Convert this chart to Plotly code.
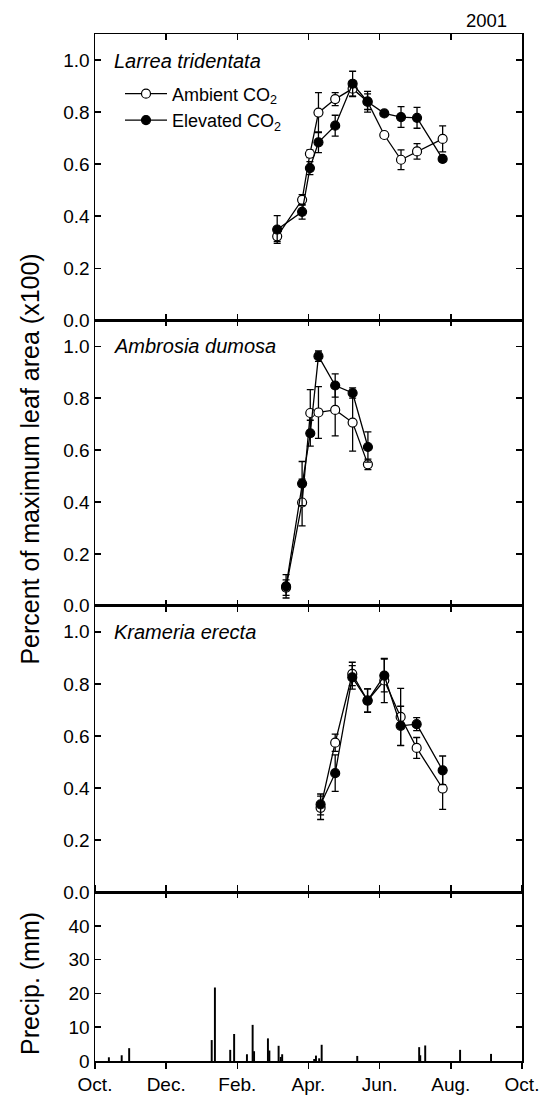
import plotly.graph_objects as go

# ---------------- data (x in months since 1 Oct 2000) ----------------
month_ticks = [0, 2, 4, 6, 8, 10, 12]
month_labels = ["Oct.", "Dec.", "Feb.", "Apr.", "Jun.", "Aug.", "Oct."]

larrea_x = [5.12, 5.82, 6.04, 6.28, 6.75, 7.24, 7.66, 8.13, 8.60, 9.05, 9.77]
larrea_amb = [0.323, 0.463, 0.640, 0.798, 0.850, 0.890, 0.840, 0.712, 0.617, 0.649, 0.697]
larrea_amb_err = [0.02, 0.02, 0.015, 0.077, 0.025, 0.03, 0.03, 0.01, 0.038, 0.03, 0.05]
larrea_elev = [0.349, 0.417, 0.585, 0.684, 0.748, 0.909, 0.840, 0.795, 0.781, 0.778, 0.620]
larrea_elev_err = [0.053, 0.028, 0.025, 0.04, 0.04, 0.048, 0.04, 0.01, 0.04, 0.04, 0.01]

ambrosia_x = [5.37, 5.82, 6.05, 6.28, 6.75, 7.24, 7.67]
ambrosia_amb = [0.07, 0.398, 0.743, 0.745, 0.755, 0.706, 0.545]
ambrosia_amb_err = [0.03, 0.09, 0.09, 0.10, 0.10, 0.11, 0.02]
ambrosia_elev = [0.075, 0.471, 0.665, 0.962, 0.849, 0.820, 0.612]
ambrosia_elev_err = [0.045, 0.085, 0.05, 0.02, 0.045, 0.02, 0.058]

krameria_x = [6.34, 6.75, 7.23, 7.66, 8.13, 8.59, 9.04, 9.77]
krameria_amb = [0.324, 0.574, 0.838, 0.736, 0.813, 0.673, 0.554, 0.398]
krameria_amb_err = [0.045, 0.033, 0.045, 0.045, 0.085, 0.11, 0.04, 0.08]
krameria_elev = [0.337, 0.457, 0.825, 0.736, 0.832, 0.639, 0.645, 0.468]
krameria_elev_err = [0.04, 0.07, 0.045, 0.045, 0.063, 0.075, 0.025, 0.055]

precip_x = [0.39, 0.75, 0.96, 3.28, 3.37, 3.80, 3.91, 4.27, 4.43, 4.47, 4.86, 4.90,
            5.16, 5.22, 5.26, 6.16, 6.21, 6.30, 6.37, 7.37, 9.11, 9.14, 9.28, 10.26, 11.13]
precip_mm = [1.1, 1.7, 3.8, 6.2, 21.8, 3.3, 8.0, 2.0, 10.7, 2.9, 6.7, 3.1,
             4.5, 1.2, 2.0, 0.6, 1.6, 0.8, 4.8, 1.5, 4.1, 1.7, 4.6, 3.3, 2.1]

species = ["Larrea tridentata", "Ambrosia dumosa", "Krameria erecta"]
series_names = ["Ambient CO<sub>2</sub>", "Elevated CO<sub>2</sub>"]
year_label = "2001"
y_title = "Percent of maximum leaf area (x100)"
precip_title = "Precip. (mm)"

# ---------------- figure ----------------
FONT = "Liberation Sans, Arial, sans-serif"
W, H = 553, 1107
ML, MT = 95, 34
MR = W - 522
MB = H - 1074
plot_h = H - MT - MB
pw = W - ML - MR

def fy(ref_y):
    """page y (pixels) -> paper fraction"""
    return (H - MB - ref_y) / plot_h

def fx(ref_x):
    return (ref_x - ML) / pw

domains = [
    [fy(324), 1.0],
    [fy(613), fy(324)],
    [fy(903), fy(613)],
    [0.0, fy(903)],
]

fig = go.Figure()

panels = [
    (larrea_x, larrea_amb, larrea_amb_err, larrea_elev, larrea_elev_err),
    (ambrosia_x, ambrosia_amb, ambrosia_amb_err, ambrosia_elev, ambrosia_elev_err),
    (krameria_x, krameria_amb, krameria_amb_err, krameria_elev, krameria_elev_err),
]

for i, (xs, amb, amb_e, elev, elev_e) in enumerate(panels):
    xa = "x" if i == 0 else f"x{i+1}"
    ya = "y" if i == 0 else f"y{i+1}"
    fig.add_trace(go.Scatter(
        x=xs, y=amb, mode="lines+markers", name=series_names[0],
        xaxis=xa, yaxis=ya, showlegend=(i == 0), legendrank=1,
        line=dict(color="black", width=1.3),
        marker=dict(symbol="circle", size=9, color="white",
                    line=dict(color="black", width=1.2)),
        error_y=dict(type="data", array=amb_e, color="black", thickness=1.3, width=3.5),
    ))
    fig.add_trace(go.Scatter(
        x=xs, y=elev, mode="lines+markers", name=series_names[1],
        xaxis=xa, yaxis=ya, showlegend=(i == 0), legendrank=2,
        line=dict(color="black", width=1.3),
        marker=dict(symbol="circle", size=9, color="black",
                    line=dict(color="black", width=1.2)),
        error_y=dict(type="data", array=elev_e, color="black", thickness=1.3, width=3.5),
    ))

fig.add_trace(go.Bar(
    x=precip_x, y=precip_mm, width=0.055, xaxis="x4", yaxis="y4",
    marker=dict(color="black", line=dict(width=0)), showlegend=False,
))
# helper axis for inward ticks on top edge of precip panel
fig.add_trace(go.Scatter(x=[None], y=[None], xaxis="x5", yaxis="y4",
                         showlegend=False, hoverinfo="skip"))

axis_common = dict(showline=True, linecolor="black", linewidth=1.5,
                   showgrid=False, zeroline=False, ticklen=6, tickwidth=1.5,
                   tickcolor="black", tickfont=dict(family=FONT, size=19, color="black"))

layout = dict(
    width=W, height=H, margin=dict(l=ML, r=MR, t=MT, b=MB),
    paper_bgcolor="white", plot_bgcolor="white", barmode="overlay",
    font=dict(family=FONT, color="black"),
    showlegend=True, hovermode=False,
    legend=dict(x=fx(120), y=fy(76), xanchor="left", yanchor="top",
                bgcolor="rgba(0,0,0,0)", font=dict(family=FONT, size=18, color="black"),
                tracegroupgap=0, itemwidth=42),
)

for i in range(4):
    xk = "xaxis" if i == 0 else f"xaxis{i+1}"
    yk = "yaxis" if i == 0 else f"yaxis{i+1}"
    ya = "y" if i == 0 else f"y{i+1}"
    last = (i == 3)
    layout[xk] = dict(axis_common, range=[0, 12], tickvals=month_ticks, ticktext=month_labels,
                      anchor=ya, mirror="ticks", ticks="outside" if last else "inside",
                      showticklabels=last)
    if last:
        layout[yk] = dict(axis_common, domain=domains[i], range=[0, 50],
                          tickvals=[0, 10, 20, 30, 40], anchor="x4",
                          ticks="inside", mirror="ticks")
    else:
        layout[yk] = dict(axis_common, domain=domains[i], range=[0, 1.1],
                          tickvals=[0, 0.2, 0.4, 0.6, 0.8, 1.0], tickformat=".1f",
                          anchor="x" if i == 0 else f"x{i+1}",
                          ticks="inside", mirror="ticks")

layout["xaxis5"] = dict(axis_common, range=[0, 12], tickvals=month_ticks, overlaying="x4",
                        anchor="y4", side="top", ticks="inside", showticklabels=False)

fig.update_layout(**layout)

label_y = [61, 350, 640]
for name, ly in zip(species, label_y):
    fig.add_annotation(text=f"<i>{name}</i>", xref="paper", yref="paper",
                       x=fx(112), y=fy(ly), xanchor="left", yanchor="middle",
                       showarrow=False, font=dict(family=FONT, size=20, color="black"))

fig.add_annotation(text=year_label, xref="paper", yref="paper",
                   x=fx(486), y=fy(20), xanchor="center", yanchor="middle",
                   showarrow=False, font=dict(family=FONT, size=18.5, color="black"))

fig.add_annotation(text=y_title, xref="paper", yref="paper", textangle=-90,
                   x=fx(30), y=fy(465), xanchor="center", yanchor="middle",
                   showarrow=False, font=dict(family=FONT, size=25, color="black"))

fig.add_annotation(text=precip_title, xref="paper", yref="paper", textangle=-90,
                   x=fx(30), y=fy(996), xanchor="center", yanchor="middle",
                   showarrow=False, font=dict(family=FONT, size=25, color="black"))

page_fix = (
    "var h=document.documentElement,b=document.body;"
    "h.style.margin='0';h.style.padding='0';h.style.overflow='hidden';"
    "h.style.height='1107px';h.style.width='553px';"
    "b.style.margin='0';b.style.padding='0';b.style.overflow='hidden';"
    "b.style.height='1107px';b.style.width='553px';b.style.position='relative';"
)

fig.write_html(
    "out.html",
    config={"displayModeBar": False, "staticPlot": True},
    post_script=page_fix,
)
